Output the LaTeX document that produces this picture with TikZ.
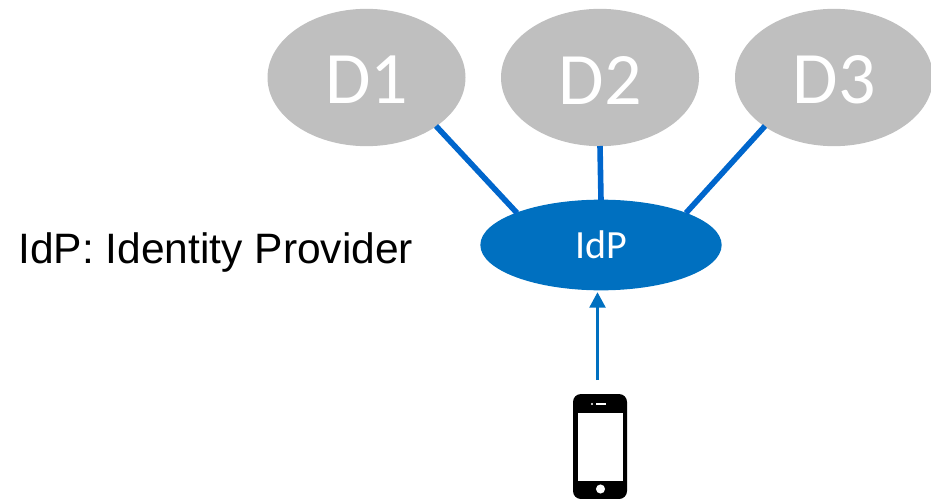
\documentclass[tikz,border=0pt]{standalone}
\usepackage{fontspec}
\setmainfont{Liberation Sans}
\newfontfamily\calfont{Carlito}
\usetikzlibrary{arrows.meta,shapes.geometric}
\definecolor{dgray}{HTML}{BFBFBF}
\definecolor{idpblue}{HTML}{0070C0}
\definecolor{linkblue}{HTML}{0066CC}
\tikzset{
 dom/.style={ellipse,fill=dgray,minimum width=148.5pt,minimum height=103pt,inner sep=0pt},
 domtext/.style={inner sep=0pt,text=white,font=\calfont\fontsize{55.5}{55.5}\selectfont},
 link/.style={draw=linkblue,line width=4.2pt},
}
\begin{document}
\begin{tikzpicture}[x=0.75pt,y=-0.75pt]
\useasboundingbox (0,0) rectangle (931,499);
\node[dom] (d1) at (366.5,77.5) {};
\node[dom] (d2) at (600,77.5) {};
\node[dom] (d3) at (834,77.5) {};
\node[domtext] (t1) at (367,80) {D1};
\node[domtext] (t2) at (600,80) {D2};
\node[domtext] (t3) at (834,80) {D3};
\node[ellipse,fill=idpblue,minimum width=181pt,minimum height=68pt,inner sep=0pt,text=white,font=\calfont\fontsize{30}{30}\selectfont] (idp) at (601,245) {IdP};
\node[anchor=west,inner sep=0pt,font=\fontsize{31.9}{31.9}\selectfont] (lbl) at (18,253) {IdP: Identity Provider};
\coordinate (d1e) at (436,126);\coordinate (i1) at (517,213);
\coordinate (d2e) at (600,146);\coordinate (i2) at (601,200);
\coordinate (d3e) at (765,126);\coordinate (i3) at (686,213);
\draw[link] (d1e)--(i1);
\draw[link] (d2e)--(i2);
\draw[link] (d3e)--(i3);
% phone
\fill[black,rounded corners=6pt] (573,394) rectangle (627,499);
\fill[white] (577.5,413) rectangle (623,481);
\fill[white] (600.5,489) circle (3.4pt);
\fill[white] (596,403.3) rectangle (605.5,405);
\fill[white] (592,404) circle (0.9pt);
\coordinate (ph) at (597.5,380);
\node[inner sep=0pt,minimum size=0pt] (tip) at (597.5,292) {};
\draw[draw=idpblue,line width=1.7pt,-{Triangle[length=11.5pt,width=12pt]}] (ph) -- (tip);
\end{tikzpicture}
\end{document}
